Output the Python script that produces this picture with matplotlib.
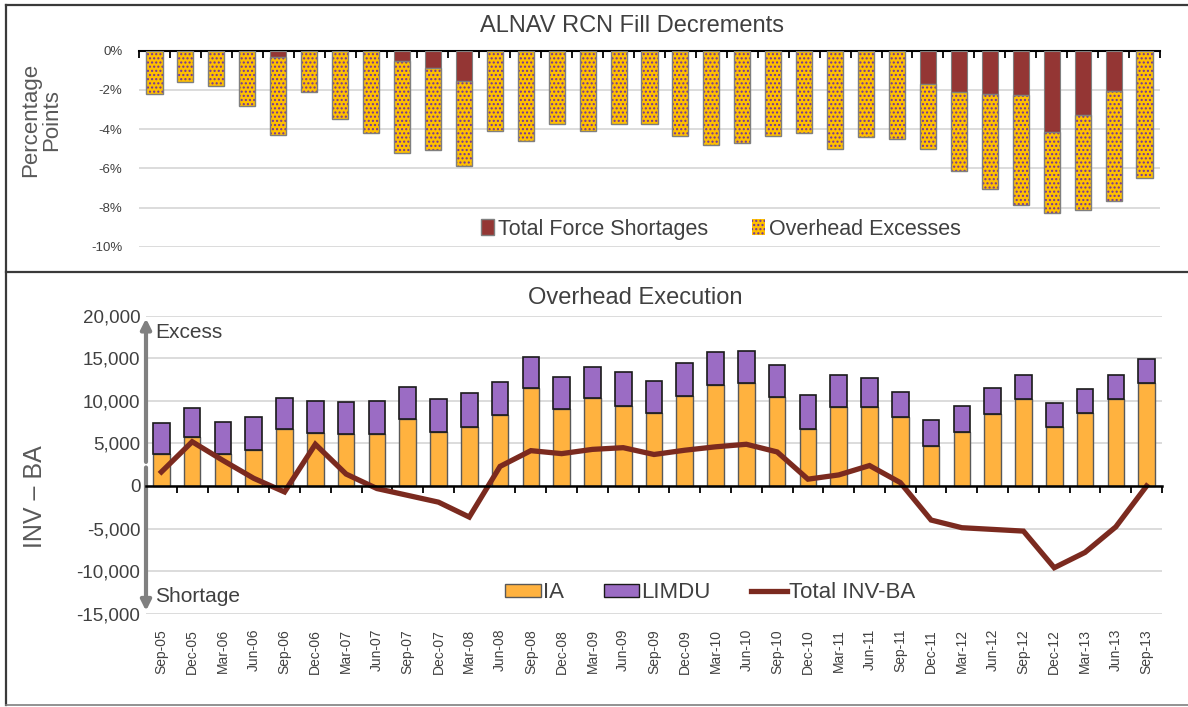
import matplotlib
matplotlib.use("Agg")
import matplotlib.pyplot as plt
import numpy as np
from matplotlib.lines import Line2D
from matplotlib.patches import Patch
from matplotlib.ticker import FuncFormatter, FixedLocator

plt.rcParams['font.family'] = ['Liberation Sans', 'DejaVu Sans']
plt.rcParams['hatch.linewidth'] = 1.0

quarters = ["Sep-05", "Dec-05", "Mar-06", "Jun-06", "Sep-06", "Dec-06", "Mar-07", "Jun-07",
            "Sep-07", "Dec-07", "Mar-08", "Jun-08", "Sep-08", "Dec-08", "Mar-09", "Jun-09",
            "Sep-09", "Dec-09", "Mar-10", "Jun-10", "Sep-10", "Dec-10", "Mar-11", "Jun-11",
            "Sep-11", "Dec-11", "Mar-12", "Jun-12", "Sep-12", "Dec-12", "Mar-13", "Jun-13",
            "Sep-13"]

# Top chart: total decrement (percentage points) and the share due to force shortages
total_decrement = [2.2, 1.6, 1.8, 2.8, 4.3, 2.1, 3.5, 4.2, 5.2, 5.05, 5.9, 4.1, 4.6, 3.75,
                   4.1, 3.75, 3.75, 4.35, 4.8, 4.7, 4.35, 4.2, 5.0, 4.4, 4.5, 5.0, 6.15,
                   7.05, 7.85, 8.3, 8.15, 7.65, 6.5]
force_shortages = [0, 0, 0, 0, 0.3, 0, 0, 0, 0.5, 0.9, 1.55, 0, 0, 0, 0, 0, 0, 0, 0, 0, 0,
                   0, 0, 0, 0, 1.7, 2.1, 2.2, 2.25, 4.15, 3.3, 2.05, 0]
overhead_excesses = [t - s for t, s in zip(total_decrement, force_shortages)]

# Bottom chart
ia = [3770, 5780, 3770, 4210, 6720, 6180, 6060, 6060, 7870, 6370, 6880, 8340, 11560, 9040,
      10380, 9400, 8540, 10540, 11870, 12070, 10420, 6720, 9250, 9250, 8070, 4720, 6370,
      8490, 10220, 6880, 8540, 10220, 12140]
ia_plus_limdu = [7360, 9200, 7550, 8100, 10380, 10020, 9870, 10020, 11670, 10220, 10900,
                 12190, 15180, 12850, 14030, 13370, 12380, 14390, 15730, 15880, 14200, 10730,
                 13050, 12700, 11050, 7710, 9400, 11560, 13050, 9720, 11400, 13050, 14900]
limdu = [t - a for t, a in zip(ia_plus_limdu, ia)]
total_inv_ba = [1650, 5200, 3000, 900, -700, 4900, 1400, -300, -1100, -1900, -3650, 2300,
                4150, 3800, 4300, 4500, 3700, 4200, 4600, 4900, 4000, 800, 1300, 2400, 400,
                -4000, -4900, -5100, -5300, -9600, -7800, -4800, 0]

W, H = 1188, 707
fig = plt.figure(figsize=(W / 100, H / 100), dpi=100)

def fx(px):
    return px / W

def fy(py):
    return 1 - py / H

# frames
frame_col = '#3a3a3a'
fig.add_artist(Line2D([fx(6), fx(1188)], [fy(5), fy(5)], color=frame_col, lw=1.6))
fig.add_artist(Line2D([fx(6), fx(6)], [fy(5), fy(705)], color=frame_col, lw=1.6))
fig.add_artist(Line2D([fx(6), fx(1188)], [fy(272), fy(272)], color=frame_col, lw=1.6))
fig.add_artist(Line2D([fx(6), fx(1188)], [fy(705), fy(705)], color='#7f7f7f', lw=1.2))

text_col = '#404040'
grid_col = '#d9d9d9'
x = np.arange(len(quarters))

# ---------------- Top chart ----------------
ax1_left, ax1_right, ax1_top, ax1_bot = 139, 1160, 50.7, 246.7
ax1 = fig.add_axes([fx(ax1_left), fy(ax1_bot), fx(ax1_right) - fx(ax1_left),
                    fy(ax1_top) - fy(ax1_bot)])
bw = 0.52
short_neg = [-v for v in force_shortages]
over_neg = [-v for v in overhead_excesses]
ax1.bar(x, short_neg, width=bw, color='#943634', edgecolor='#7f7f7f', linewidth=0.8, zorder=3)
ax1.bar(x, over_neg, width=bw, bottom=short_neg, color='#FFC000', edgecolor='#7030A0',
        linewidth=0, hatch='....', zorder=3)
ax1.bar(x, over_neg, width=bw, bottom=short_neg, fill=False, edgecolor='#7f7f7f',
        linewidth=1.0, zorder=4)
ax1.set_xlim(-0.5, len(quarters) - 0.5)
ax1.set_ylim(-10, 0)
ax1.set_yticks([0, -2, -4, -6, -8, -10])
ax1.yaxis.set_major_formatter(FuncFormatter(lambda v, p: f"{int(round(v))}%"))
ax1.tick_params(axis='y', length=0, labelsize=9.5, labelcolor=text_col, pad=12)
ax1.grid(axis='y', color=grid_col, lw=1.3, zorder=0)
for s in ['left', 'right', 'bottom']:
    ax1.spines[s].set_visible(False)
ax1.spines['top'].set_color('black')
ax1.spines['top'].set_linewidth(1.5)
ax1.xaxis.tick_top()
ax1.xaxis.set_major_locator(FixedLocator(np.arange(len(quarters) + 1) - 0.5))
ax1.tick_params(axis='x', direction='in', length=5, width=1.3, labeltop=False,
                labelbottom=False, color='black')
ax1.text((632 - ax1_left) / (ax1_right - ax1_left), (ax1_top - 26) / (ax1_bot - ax1_top) + 1,
         "ALNAV RCN Fill Decrements", transform=ax1.transAxes, fontsize=17,
         color=text_col, ha='center', va='center')
ax1.set_ylabel("Percentage\nPoints", fontsize=16, color='#595959', linespacing=1.0)
ax1.yaxis.set_label_coords((62 - ax1_left) / (ax1_right - ax1_left),
                           (ax1_bot - 120) / (ax1_bot - ax1_top))
h1 = [Patch(facecolor='#943634', edgecolor='#7f7f7f'),
      Patch(facecolor='#FFC000', edgecolor='#7030A0', hatch='....', linewidth=0)]
ax1.legend(h1, ["Total Force Shortages", "Overhead Excesses"], loc='center',
           bbox_to_anchor=((721 - ax1_left) / (ax1_right - ax1_left),
                           (ax1_bot - 229) / (ax1_bot - ax1_top)),
           ncol=2, frameon=False, fontsize=15.5,
           labelcolor=text_col, handlelength=0.6, handleheight=0.8, handletextpad=0.2,
           columnspacing=2.0, borderpad=0, borderaxespad=0)

# ---------------- Bottom chart ----------------
ax2_left, ax2_right, ax2_top, ax2_bot = 146, 1162, 315.7, 613.7
ax2 = fig.add_axes([fx(ax2_left), fy(ax2_bot), fx(ax2_right) - fx(ax2_left),
                    fy(ax2_top) - fy(ax2_bot)])
bw2 = 0.54
ax2.bar(x, ia, width=bw2, color='#FFB23F', edgecolor='#595959', linewidth=1.0, zorder=3)
ax2.bar(x, limdu, width=bw2, bottom=ia, color='#9B6CC4', edgecolor='#1a1a1a', linewidth=1.2,
        zorder=3)
ax2.plot(x, total_inv_ba, color='#7B2A1F', lw=3.8, zorder=5, solid_joinstyle='miter')
ax2.set_xlim(-0.5, len(quarters) - 0.5)
ax2.set_ylim(-15000, 20000)
ax2.set_yticks(np.arange(-15000, 20001, 5000))
ax2.yaxis.set_major_formatter(FuncFormatter(lambda v, p: f"{int(v):,}"))
ax2.tick_params(axis='y', length=0, labelsize=13.5, labelcolor=text_col, pad=4)
ax2.grid(axis='y', color=grid_col, lw=1.3, zorder=0)
for s in ['left', 'right', 'top']:
    ax2.spines[s].set_visible(False)
ax2.spines['bottom'].set_position(('data', 0))
ax2.spines['bottom'].set_color('black')
ax2.spines['bottom'].set_linewidth(1.8)
ax2.spines['bottom'].set_zorder(6)
ax2.xaxis.set_major_locator(FixedLocator(np.arange(len(quarters) + 1) - 0.5))
ax2.tick_params(axis='x', direction='out', length=5, width=1.3, labelbottom=False,
                color='black')
sec = ax2.secondary_xaxis(0.0)
sec.set_xticks(x)
sec.set_xticklabels(quarters, rotation=90, fontsize=10, color=text_col)
sec.tick_params(length=0, pad=11)
sec.spines['bottom'].set_visible(False)
ax2.text((635 - ax2_left) / (ax2_right - ax2_left), (ax2_bot - 298) / (ax2_bot - ax2_top),
         "Overhead Execution", transform=ax2.transAxes, fontsize=17,
         color=text_col, ha='center', va='center')
ax2.set_ylabel("INV \u2013 BA", fontsize=18, color='#595959')
ax2.yaxis.set_label_coords((47 - ax2_left) / (ax2_right - ax2_left),
                           (ax2_bot - 497) / (ax2_bot - ax2_top))

# gray double arrow on the left
for end in (1.0, 0.0):
    ax2.annotate('', xy=(0, end), xytext=(0, 0.5), xycoords='axes fraction',
                 arrowprops=dict(arrowstyle='-|>,head_length=0.6,head_width=0.3',
                                 color='#808080', lw=3), zorder=6, annotation_clip=False)
ax2.text(0.009, (ax2_bot - 333) / (ax2_bot - ax2_top), "Excess", transform=ax2.transAxes,
         fontsize=15, color=text_col, va='center', ha='left')
ax2.text(0.009, (ax2_bot - 597) / (ax2_bot - ax2_top), "Shortage", transform=ax2.transAxes,
         fontsize=15, color=text_col, va='center', ha='left')

h2 = [Patch(facecolor='#FFB23F', edgecolor='#595959'),
      Patch(facecolor='#9B6CC4', edgecolor='#1a1a1a'),
      Line2D([0], [0], color='#7B2A1F', lw=3.8)]
ax2.legend(h2, ["IA", "LIMDU", "Total INV-BA"], loc='center',
           bbox_to_anchor=((710 - ax2_left) / (ax2_right - ax2_left),
                           (ax2_bot - 593) / (ax2_bot - ax2_top)),
           ncol=3, frameon=False, fontsize=16,
           labelcolor=text_col, handlelength=1.6, handleheight=0.5, handletextpad=0.1,
           columnspacing=1.8, borderpad=0, borderaxespad=0)

fig.savefig("out.png", dpi=100)
